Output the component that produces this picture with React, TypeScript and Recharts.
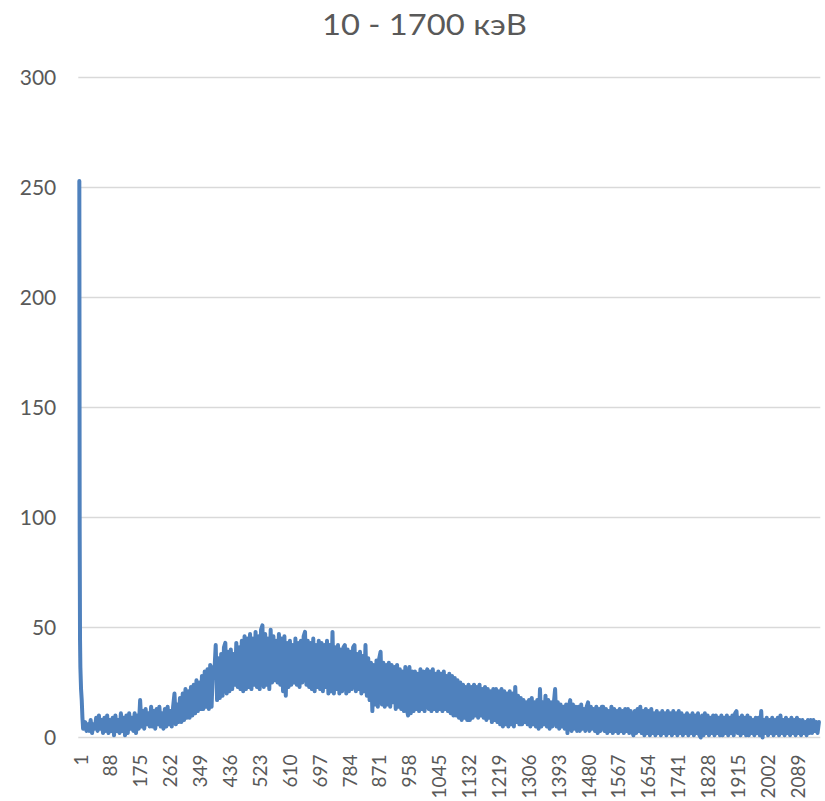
import React from 'react';
import { LineChart, Line, XAxis, YAxis, CartesianGrid } from 'recharts';

const chartTitle = '10 - 1700 кэВ';

const yTicks = [0, 50, 100, 150, 200, 250, 300];
const xTicks = [1, 88, 175, 262, 349, 436, 523, 610, 697, 784, 871, 958, 1045, 1132, 1219, 1306, 1393, 1480, 1567, 1654, 1741, 1828, 1915, 2002, 2089];

// first channels (steep drop)
const headChannels = [1, 2, 3, 4, 6, 8, 10, 12];
const headCounts = [253, 95, 45, 32, 22, 17, 9, 4];

// counts read every 4 channels, starting at channel 14
const bodyStart = 14;
const bodyStep = 4;
const bodyCounts = [
  4, 7, 3, 6, 3, 8, 2, 6, 4, 9,
  3, 10, 4, 8, 2, 9, 3, 10, 2, 8,
  3, 9, 1, 10, 3, 8, 2, 11, 3, 9,
  1, 10, 2, 11, 4, 9, 3, 11, 2, 10,
  4, 17, 5, 12, 4, 13, 6, 11, 5, 14,
  5, 12, 4, 13, 6, 14, 5, 11, 4, 13,
  5, 14, 6, 12, 5, 14, 20, 6, 15, 7,
  18, 7, 20, 8, 22, 9, 21, 9, 23, 10,
  24, 11, 26, 12, 25, 13, 28, 13, 30, 14,
  31, 13, 33, 14, 32, 29, 42, 17, 36, 18,
  38, 19, 41, 43, 20, 39, 21, 40, 22, 38,
  24, 43, 23, 41, 22, 44, 21, 46, 22, 45,
  23, 47, 22, 45, 24, 48, 23, 46, 22, 49,
  51, 23, 47, 24, 45, 22, 49, 25, 46, 26,
  44, 25, 47, 24, 45, 21, 46, 19, 43, 23,
  44, 24, 42, 25, 45, 24, 43, 23, 44, 25,
  46, 48, 24, 44, 23, 43, 22, 45, 21, 42,
  23, 44, 22, 43, 21, 42, 23, 44, 20, 42,
  21, 48, 20, 41, 22, 42, 20, 40, 21, 41,
  42, 20, 40, 21, 39, 22, 41, 42, 21, 38,
  22, 39, 20, 37, 21, 42, 19, 36, 17, 34,
  12, 33, 15, 35, 14, 36, 39, 15, 34, 14,
  33, 15, 34, 14, 33, 16, 32, 13, 33, 14,
  31, 13, 30, 12, 32, 13, 10, 32, 11, 30,
  12, 30, 13, 29, 12, 31, 13, 30, 12, 29,
  31, 13, 30, 12, 31, 13, 29, 12, 30, 13,
  29, 12, 30, 13, 28, 12, 29, 11, 28, 10,
  27, 10, 26, 9, 25, 8, 24, 9, 23, 8,
  24, 8, 23, 9, 24, 10, 23, 9, 24, 10,
  22, 9, 23, 8, 22, 9, 21, 7, 22, 8,
  22, 7, 21, 6, 22, 5, 21, 6, 20, 5,
  21, 6, 20, 5, 23, 7, 19, 6, 18, 6,
  17, 7, 16, 6, 17, 5, 18, 6, 16, 5,
  17, 4, 22, 5, 16, 6, 19, 5, 17, 4,
  16, 5, 15, 22, 5, 16, 4, 15, 5, 14,
  4, 15, 2, 14, 17, 3, 15, 4, 14, 3,
  14, 3, 15, 4, 13, 3, 14, 16, 3, 14,
  4, 13, 3, 14, 2, 13, 3, 14, 14, 3,
  13, 2, 12, 3, 14, 2, 13, 3, 12, 2,
  13, 3, 12, 2, 13, 3, 13, 2, 12, 3,
  1, 12, 2, 13, 3, 14, 2, 12, 1, 13,
  2, 12, 1, 13, 2, 11, 1, 12, 2, 11,
  1, 12, 2, 11, 1, 12, 2, 11, 1, 12,
  2, 11, 1, 12, 2, 11, 1, 10, 2, 11,
  1, 10, 2, 11, 1, 10, 2, 11, 1, 0,
  10, 1, 11, 2, 10, 1, 9, 2, 10, 1,
  10, 2, 9, 1, 10, 1, 9, 2, 10, 1,
  9, 2, 10, 1, 11, 12, 2, 9, 1, 10,
  2, 9, 1, 10, 1, 9, 2, 8, 1, 9,
  2, 9, 1, 12, 0, 8, 2, 9, 1, 8,
  2, 9, 1, 8, 2, 9, 1, 10, 2, 8,
  1, 9, 2, 8, 1, 9, 2, 8, 1, 9,
  2, 8, 1, 8, 2, 7, 1, 8, 2, 8,
  2, 8, 3, 7, 2, 7,
];

const data = [
  ...headChannels.map((ch, i) => ({ ch, v: headCounts[i] })),
  ...bodyCounts.map((v, i) => ({ ch: bodyStart + bodyStep * i, v })),
];

const FONT = 'Lato, "Open Sans", sans-serif';
const TEXT = '#595959';

const XTick = (props: any) => {
  const { x, y, payload } = props;
  const cx = x + 0.7;
  return (
    <text
      x={cx}
      y={y}
      transform={`rotate(-90, ${cx}, ${y})`}
      textAnchor="end"
      dominantBaseline="central"
      fill={TEXT}
      fontSize={19}
      fontFamily={FONT}
    >
      {payload.value}
    </text>
  );
};

export default function App() {
  return (
    <div style={{ position: 'absolute', left: 0, top: 0, width: 825, height: 801, background: '#fff', fontFamily: FONT }}>
      <svg width={825} height={60} style={{ position: 'absolute', left: 0, top: 0 }}>
        <text
          x={322}
          y={35}
          textLength={205}
          lengthAdjust="spacingAndGlyphs"
          fill={TEXT}
          fontSize={28}
          fontFamily={FONT}
        >
          {chartTitle}
        </text>
      </svg>
      <div style={{ position: 'absolute', left: 0, top: 0 }}>
        <LineChart
          width={825}
          height={801}
          data={data}
          margin={{ top: 77.5, right: 4.7, bottom: 0, left: 0 }}
        >
          <CartesianGrid horizontal vertical={false} stroke="#d9d9d9" strokeWidth={1.3} />
          <XAxis
            dataKey="ch"
            type="number"
            domain={[-2, 2158]}
            ticks={xTicks}
            interval={0}
            height={63.5}
            axisLine={false}
            tickLine={false}
            tickSize={0}
            tickMargin={17}
            tick={<XTick />}
          />
          <YAxis
            type="number"
            domain={[0, 300]}
            ticks={yTicks}
            interval={0}
            width={78.3}
            axisLine={false}
            tickLine={false}
            tickSize={0}
            tickMargin={22}
            tick={{ fontSize: 21, fill: TEXT, fontFamily: FONT }}
          />
          <Line
            type="linear"
            dataKey="v"
            stroke="#4f81bd"
            strokeWidth={4}
            strokeLinejoin="round"
            strokeLinecap="round"
            dot={false}
            activeDot={false}
            isAnimationActive={false}
          />
        </LineChart>
      </div>
    </div>
  );
}
